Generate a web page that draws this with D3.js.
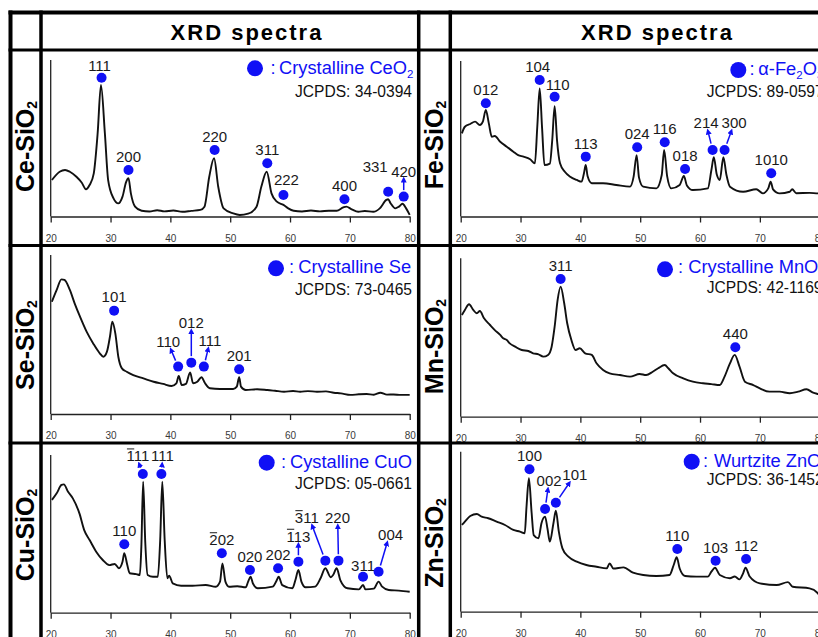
<!DOCTYPE html>
<html>
<head>
<meta charset="utf-8">
<script src="https://cdn.jsdelivr.net/npm/d3@7"></script>
<style>
body { margin: 0; background: #fff; }
svg { display: block; font-family: "Liberation Sans", Arial, sans-serif; }
</style>
</head>
<body>
<script>
// 2-theta ticks shared by every panel
const xTicks = [20, 30, 40, 50, 60, 70, 80];

// Ce-SiO2
const ceTheta = [20.2, 21.5, 22.4, 23.2, 24.3, 25.2, 25.9, 26.5, 27.2, 27.85, 28.4, 29.05, 29.6, 30.5, 31.3, 32.0, 32.6, 33.0, 33.4, 34.1, 35.2, 36.5, 37.8, 39.0, 40.5, 42.0, 43.5, 45.0, 45.7, 46.5, 47.3, 48.0, 48.9, 50.5, 51.6, 53.0, 54.4, 55.2, 56.1, 56.9, 57.8, 58.9, 59.7, 60.6, 62.0, 63.5, 65.0, 66.5, 67.8, 68.9, 69.4, 70.3, 71.4, 72.5, 73.9, 75.0, 76.1, 76.4, 76.8, 77.6, 78.2, 78.8, 79.4, 80];
const ceCounts = [23.3, 28.6, 29.7, 28.6, 25.4, 21.6, 17.4, 20.1, 27.6, 53.4, 84, 53.4, 23.3, 11.6, 8.4, 12.7, 22, 24.4, 14.8, 6.3, 3.7, 3.2, 4.0, 3.3, 3.8, 3.0, 3.6, 4.2, 6.3, 25.4, 37.2, 19, 5.2, 2, 1, 1.8, 6.3, 19, 28.6, 14.8, 9.5, 7.4, 5.2, 3.7, 3.2, 3.8, 3.3, 3.7, 3.7, 5.8, 6.3, 4.6, 3, 3.5, 3, 5.2, 10.6, 11, 8.5, 5.2, 6.3, 8.1, 5.2, 1];
const cePeaks = [28.5, 33.0, 47.4, 56.2, 58.9, 69.1, 76.4, 79.0];
const ceMarks = [88.7, 29.7, 42.5, 34, 13.7, 11, 15.8, 12.7];
const ceHkl = ['111', '200', '220', '311', '222', '400', '331', '420'];

// Se-SiO2
const seTheta = [20.2, 21.0, 21.8, 22.3, 23.2, 24.0, 24.9, 26.0, 27.1, 28.2, 28.8, 29.4, 29.9, 30.3, 30.8, 31.3, 31.9, 32.7, 33.8, 35.5, 37.2, 38.8, 40.2, 41.0, 41.4, 41.9, 42.6, 43.3, 43.8, 44.5, 45.2, 45.8, 46.6, 48.3, 50.5, 51.1, 51.5, 51.8, 52.6, 54.5, 56.2, 57.5, 59.0, 60.5, 61.7, 63.0, 64.5, 66.0, 67.3, 68.5, 70.1, 71.5, 72.8, 74.0, 75.1, 76.2, 77.3, 78.5, 80];
const seCounts = [70.6, 78, 84.7, 84.3, 78, 69.6, 61.2, 51.8, 44.4, 38.2, 36, 39.2, 48.6, 58, 50.7, 36, 28.7, 26.6, 24.5, 22.4, 20.3, 18.9, 17.6, 19.3, 23.9, 18.2, 18.9, 26.2, 19.3, 20.3, 23.1, 19.3, 16.2, 15.7, 15.7, 17.2, 23.1, 17.2, 15.1, 15.6, 15.1, 14.6, 14.0, 14.5, 14, 14.4, 14, 14.2, 13.4, 13, 12, 12.4, 12.6, 12.1, 13.4, 12.2, 12.3, 12.0, 12];
const sePeaks = [30.6, 41.3, 43.5, 45.6, 51.5];
const seMarks = [65, 29.8, 32.3, 29.8, 28.1];
const seHkl = ['101', '110', '012', '111', '201'];

// Cu-SiO2
const cuTheta = [20.2, 21.0, 21.8, 22.2, 22.9, 23.7, 24.8, 25.6, 26.5, 27.6, 28.7, 29.8, 30.7, 31.4, 32.0, 32.3, 32.8, 33.2, 34.3, 34.9, 35.15, 35.45, 35.8, 36.2, 37.1, 37.9, 38.3, 38.65, 39.05, 39.5, 39.8, 40.4, 41.8, 43.7, 45.9, 47.6, 48.3, 48.7, 49.2, 49.8, 51.2, 52.6, 53.0, 53.4, 53.8, 54.6, 57.1, 57.7, 58.1, 58.7, 60.4, 60.9, 61.4, 61.9, 62.6, 64.2, 65.1, 65.9, 66.8, 67.2, 67.8, 68.4, 69.6, 71.5, 72.2, 72.6, 74.0, 74.8, 75.4, 76.5, 78.2, 80];
const cuCounts = [71.5, 75.7, 81, 81.4, 76.7, 72.5, 63, 52.4, 46.1, 38.7, 33.4, 30.2, 30.9, 28.2, 32.3, 37.7, 30.2, 25, 24.5, 23.9, 41.9, 83.1, 45, 23.9, 22.8, 22.8, 46.1, 83.1, 46, 21.8, 23.5, 18.6, 17.1, 17.1, 17.6, 16.5, 19.7, 31.3, 19.7, 16.5, 16.8, 16.1, 19.7, 22.8, 18.5, 15.5, 16.5, 20, 22.8, 17.5, 15.5, 20.7, 27.1, 19.7, 16.1, 16.5, 21.8, 28.2, 22.5, 23.9, 28.2, 20.7, 15.5, 14.8, 17.6, 14.8, 15.3, 19.7, 16.5, 14.4, 14, 13.3];
const cuPeaks = [32.3, 35.4, 38.5, 48.6, 53.3, 58.0, 61.4, 65.9, 68.1, 72.2, 74.8];
const cuMarks = [43.4, 88, 88, 37.7, 27.1, 28.2, 32.3, 33, 33, 22.8, 26];
const cuHkl = ['110', '-111', '111', '-202', '020', '202', '-113', '-311', '220', '311', '004'];

// Fe-SiO2
const feTheta = [20.2, 20.7, 21.6, 22.4, 23.2, 23.7, 24.2, 24.7, 25.2, 25.7, 26.6, 27.7, 28.8, 29.6, 30.5, 31.6, 32.4, 32.8, 33.2, 33.6, 34.0, 34.9, 35.3, 35.7, 36.1, 36.6, 37.4, 38.3, 39.4, 40.2, 40.6, 40.9, 41.2, 41.9, 43.8, 46.0, 48.3, 48.9, 49.4, 49.8, 50.5, 52.7, 53.6, 54.0, 54.5, 55.2, 56.6, 57.3, 57.8, 58.8, 61.3, 61.9, 62.3, 62.8, 63.3, 63.9, 64.4, 65.0, 67.2, 69.4, 70.5, 71.4, 71.8, 72.2, 73.3, 75.0, 75.4, 76.1, 78.3, 79.7, 80];
const feCounts = [53.5, 57.7, 59.5, 61, 58.8, 61, 68.5, 59.9, 51.3, 51.8, 48.1, 44.9, 41.7, 39.5, 38.5, 36.8, 34.2, 57.7, 82.4, 57, 33.1, 34, 49.2, 71, 49, 34.2, 28.8, 25.6, 23.5, 22.4, 27.8, 33.1, 26, 21.4, 21.4, 20.3, 19.2, 25.6, 39.5, 25, 19.2, 18.1, 26.7, 42.8, 26, 18.1, 20.3, 26, 20, 17, 18.1, 29.9, 38.1, 27, 23.5, 38.1, 27, 19.2, 15.9, 17.5, 14.9, 18.1, 22.4, 17.5, 14.9, 15.9, 17.5, 15, 15.2, 14.9, 15];
const fePeaks = [24.2, 33.2, 35.7, 40.9, 49.5, 54.1, 57.5, 62.1, 64.1, 71.9];
const feMarks = [72.8, 87.8, 77, 38.5, 44.5, 47.7, 30.5, 42.8, 42.8, 27.8];
const feHkl = ['012', '104', '110', '113', '024', '116', '018', '214', '300', '1010'];

// Mn-SiO2
const mnTheta = [20.2, 20.7, 21.4, 22.1, 22.7, 23.2, 23.9, 24.9, 25.7, 26.6, 27.1, 27.7, 28.2, 29.1, 30.2, 31.3, 32.1, 33.0, 33.8, 34.6, 35.2, 35.7, 36.2, 36.7, 37.3, 37.8, 38.5, 39.2, 39.9, 40.8, 41.9, 42.7, 43.8, 44.9, 46.6, 48.3, 49.9, 51.0, 52.1, 53.0, 54.1, 54.7, 55.5, 57.2, 58.8, 60.5, 61.9, 63.3, 64.1, 65.0, 65.8, 66.6, 67.5, 68.9, 70.0, 71.6, 73.3, 75.0, 76.4, 77.8, 78.9, 79.7, 80];
const mnCounts = [64.2, 67.4, 71, 67.4, 65.3, 66.7, 62.1, 57.9, 54.7, 51.6, 49.5, 48.4, 46.3, 44.2, 42.1, 41.5, 40, 39.4, 37.9, 39, 44.2, 56.8, 73.7, 82.1, 71.6, 59, 48.4, 42.1, 43.2, 40, 39, 33.7, 29.5, 27.4, 26.3, 25.3, 27, 26.3, 28.4, 30.6, 32.6, 30.6, 27.4, 24.2, 22.1, 21.1, 20.6, 20, 25.3, 33.7, 39, 31.6, 22.1, 20, 17.9, 15.8, 15.8, 14.8, 15.8, 17.3, 15.2, 14.3, 14];
const mnPeaks = [36.7, 65.9];
const mnMarks = [86.9, 43.8];
const mnHkl = ['311', '440'];

// Zn-SiO2
const znTheta = [20.2, 20.7, 21.6, 22.7, 23.5, 24.6, 26.0, 27.4, 28.8, 29.9, 30.7, 31.0, 31.4, 31.85, 32.2, 33.0, 33.5, 34.1, 34.5, 34.9, 35.5, 35.9, 36.4, 37.0, 38.0, 39.4, 41.0, 42.7, 44.4, 44.9, 45.5, 47.2, 48.8, 50.5, 52.7, 54.9, 55.6, 56.1, 56.6, 57.5, 59.4, 61.3, 61.9, 62.5, 63.3, 65.0, 65.8, 66.6, 67.2, 67.6, 68.3, 70.0, 72.8, 74.7, 75.5, 78.3, 79.7, 80];
const znCounts = [54.2, 56.3, 59.8, 61.1, 59.4, 58.4, 56.3, 54.2, 51.1, 50, 49, 65.6, 83.4, 62, 47.9, 45.9, 55.3, 59.4, 52, 43.8, 55.3, 63.1, 50, 39.6, 34.4, 31.3, 29.2, 28.1, 27.1, 30.2, 27, 27.7, 24.4, 22.9, 22.3, 22.9, 29.2, 34, 27, 22.3, 21.9, 21.9, 25, 27.5, 22.9, 20.9, 22, 20.2, 24, 27.5, 22, 17.7, 16.7, 18.5, 15.6, 14.6, 11.5, 10];
const znPeaks = [31.5, 34.1, 35.9, 56.2, 62.6, 67.7];
const znMarks = [89, 64.2, 68.1, 39.2, 31.9, 32.9];
const znHkl = ['100', '002', '101', '110', '103', '112'];

const blue = '#1010f5';
const width = 818;
const height = 637;

const svg = d3.select('body').append('svg')
	.attr('width', width)
	.attr('height', height);

// label nudges (px) from the default spot just above each dot: [dx, dy, arrow]
const panels = [
	{ sample: 'Ce-SiO_2', theta: ceTheta, counts: ceCounts, peaks: cePeaks, marks: ceMarks, hkl: ceHkl,
		legend: 'Crystalline CeO_2', card: 'JCPDS: 34-0394',
		left: 50.7, top: 60, axis: 216.5, rowX: 34, rowY: 146.5,
		dot: [255, 68.3], colonX: 270.5, legX: 279, legY: 74, cardX: 295, cardY: 96.7,
		nudge: { '111': [-2, -7], '222': [3, -10], '331': [-13, -20], '420': [0, -20, true] } },
	{ sample: 'Se-SiO_2', theta: seTheta, counts: seCounts, peaks: sePeaks, marks: seMarks, hkl: seHkl,
		legend: 'Crystalline Se', card: 'JCPDS: 73-0465',
		left: 50.7, top: 255, axis: 414, rowX: 34, rowY: 345,
		dot: [276, 268.3], colonX: 289, legX: 298.3, legY: 273.3, cardX: 295, cardY: 295,
		nudge: { '101': [0, -9], '110': [-10, -19.5, true], '012': [0, -34.5, true], '111': [6, -20.5, true] } },
	{ sample: 'Cu-SiO_2', theta: cuTheta, counts: cuCounts, peaks: cuPeaks, marks: cuMarks, hkl: cuHkl,
		legend: 'Cystalline CuO', card: 'JCPDS: 05-0661',
		left: 50.7, top: 455, axis: 612.7, rowX: 34, rowY: 535,
		dot: [266.7, 462.7], colonX: 281, legX: 290, legY: 468.3, cardX: 295, cardY: 489.3,
		nudge: { '-111': [-5, -12.5, true], '111': [1, -12.5, true], '-113': [0, -20, true],
			'-311': [-18.5, -37.5, true], '220': [-1, -37.5, true], '004': [12, -31.5, true], '311': [0, -6] } },
	{ sample: 'Fe-SiO_2', theta: feTheta, counts: feCounts, peaks: fePeaks, marks: feMarks, hkl: feHkl,
		legend: 'α-Fe_2O_3', card: 'JCPDS: 89-0597',
		left: 460.7, top: 61, axis: 216.5, rowX: 443, rowY: 145,
		dot: [738.3, 70], colonX: 749.5, legX: 758.3, legY: 75, cardX: 706.7, cardY: 97,
		nudge: { '104': [-2, -7.5], '110': [3, -7], '214': [-6.5, -21.5, true], '300': [9.5, -21.5, true] } },
	{ sample: 'Mn-SiO_2', theta: mnTheta, counts: mnCounts, peaks: mnPeaks, marks: mnMarks, hkl: mnHkl,
		legend: 'Crystalline MnO_2', card: 'JCPDS: 42-1169',
		left: 460.7, top: 258.3, axis: 416.7, rowX: 443, rowY: 346.5,
		dot: [665, 269.3], colonX: 678, legX: 688.3, legY: 273.3, cardX: 706.7, cardY: 293.3,
		nudge: {} },
	{ sample: 'Zn-SiO_2', theta: znTheta, counts: znCounts, peaks: znPeaks, marks: znMarks, hkl: znHkl,
		legend: 'Wurtzite ZnO', card: 'JCPDS: 36-1452',
		left: 460.7, top: 451.7, axis: 611.7, rowX: 443, rowY: 543,
		dot: [691.7, 461.7], colonX: 703, legX: 714, legY: 466.7, cardX: 706.7, cardY: 485,
		nudge: { '002': [4, -22.5, true], '101': [19, -22.5, true] } },
];

svg.append('defs').append('marker')
	.attr('id', 'head')
	.attr('viewBox', '0 0 10 10')
	.attr('refX', 5).attr('refY', 5)
	.attr('markerWidth', 4).attr('markerHeight', 4)
	.attr('orient', 'auto')
	.append('path')
	.attr('d', 'M0,0L10,5L0,10z')
	.attr('fill', blue);

// text with "_2" style subscripts
function addRich(text, str, subSize, shift) {
	let lowered = false;
	str.split(/_(\d)/).forEach((part, i) => {
		if (!part) return;
		const t = text.append('tspan').text(part);
		if (i % 2 === 1) {
			t.attr('font-size', subSize).attr('dy', shift);
			lowered = true;
		} else if (lowered) {
			t.attr('dy', -shift);
			lowered = false;
		}
	});
}

function drawPanel(p) {
	const x = d3.scaleLinear().domain([20, 80]).range([p.left, p.left + 359]);
	const y = d3.scaleLinear().domain([0, 100]).range([p.axis, p.top]);
	const g = svg.append('g');

	// row label
	const row = g.append('text')
		.attr('transform', `translate(${p.rowX},${p.rowY}) rotate(-90)`)
		.attr('text-anchor', 'middle')
		.attr('font-size', 25)
		.attr('font-weight', 'bold')
		.attr('fill', '#000');
	addRich(row, p.sample, 14, 2.5);

	g.append('line')
		.attr('x1', x(20)).attr('x2', x(20))
		.attr('y1', p.top).attr('y2', p.axis)
		.attr('stroke', '#222')
		.attr('stroke-width', 1.3);

	const xAxis = d3.axisBottom(x)
		.tickValues(xTicks)
		.tickSize(6)
		.tickSizeOuter(0)
		.tickPadding(12)
		.tickFormat(d3.format('d'));

	g.append('g')
		.attr('transform', `translate(0,${p.axis})`)
		.call(xAxis)
		.attr('font-family', null)
		.attr('font-size', 10)
		.call((a) => a.select('.domain').attr('stroke', '#222').attr('stroke-width', 1.3))
		.call((a) => a.selectAll('line').attr('stroke', '#222').attr('stroke-width', 1.3))
		.call((a) => a.selectAll('text').attr('fill', '#3a3a3a'));

	const pts = p.theta.map((t, i) => [t, p.counts[i]]);
	g.append('path')
		.datum(pts)
		.attr('d', d3.line().x((d) => x(d[0])).y((d) => y(d[1])).curve(d3.curveMonotoneX))
		.attr('fill', 'none')
		.attr('stroke', '#111')
		.attr('stroke-width', 1.9)
		.attr('stroke-linejoin', 'round');

	// peak markers
	p.peaks.forEach((t, i) => {
		const cx = x(t);
		const cy = y(p.marks[i]);
		const hkl = p.hkl[i];
		const n = p.nudge[hkl] || [0, -8];
		const lx = cx + n[0];
		const ly = cy + n[1];

		g.append('circle')
			.attr('cx', cx).attr('cy', cy).attr('r', 5)
			.attr('fill', blue);

		const label = g.append('text')
			.attr('x', lx).attr('y', ly)
			.attr('text-anchor', 'middle')
			.attr('font-size', 15)
			.attr('fill', '#1a1a1a')
			.text(hkl.replace('-', ''));

		if (hkl[0] === '-') {
			const bb = label.node().getBBox();
			g.append('line')
				.attr('x1', bb.x + 0.5).attr('x2', bb.x + 7.8)
				.attr('y1', ly - 12.5).attr('y2', ly - 12.5)
				.attr('stroke', '#1a1a1a')
				.attr('stroke-width', 1);
		}

		if (n[2]) {
			const tx = lx + (cx - lx) * 0.3;
			const ty = ly + 3;
			const dx = tx - cx;
			const dy = ty - cy;
			const len = Math.hypot(dx, dy);
			const s = 6.5 / len;
			g.append('line')
				.attr('x1', cx + dx * s).attr('y1', cy + dy * s)
				.attr('x2', tx).attr('y2', ty)
				.attr('stroke', blue)
				.attr('stroke-width', 1.5)
				.attr('marker-end', 'url(#head)');
		}
	});

	// legend
	g.append('circle')
		.attr('cx', p.dot[0]).attr('cy', p.dot[1]).attr('r', 8)
		.attr('fill', blue);
	g.append('text')
		.attr('x', p.colonX).attr('y', p.legY)
		.attr('font-size', 18.3)
		.attr('fill', blue)
		.text(':');
	const leg = g.append('text')
		.attr('x', p.legX).attr('y', p.legY)
		.attr('font-size', 18.3)
		.attr('fill', blue);
	addRich(leg, p.legend, 11.5, 4);
	g.append('text')
		.attr('x', p.cardX).attr('y', p.cardY)
		.attr('font-size', 15.6)
		.attr('fill', '#111')
		.text(p.card);
}

panels.forEach(drawPanel);

// header
[247, 657.5].forEach((cx) => {
	svg.append('text')
		.attr('x', cx).attr('y', 40)
		.attr('text-anchor', 'middle')
		.attr('font-size', 22)
		.attr('font-weight', 'bold')
		.attr('letter-spacing', 2)
		.text('XRD spectra');
});

// table grid
const grid = svg.append('g').attr('stroke', '#000');
grid.append('line').attr('x1', 8.5).attr('x2', width).attr('y1', 12.5).attr('y2', 12.5).attr('stroke-width', 4);
[50, 245.5, 443].forEach((yy) => {
	grid.append('line').attr('x1', 8.5).attr('x2', width).attr('y1', yy).attr('y2', yy).attr('stroke-width', 3.2);
});
grid.append('line').attr('x1', 10.5).attr('x2', 10.5).attr('y1', 10.5).attr('y2', height).attr('stroke-width', 4);
[41, 418.7, 450.3].forEach((xx) => {
	grid.append('line').attr('x1', xx).attr('x2', xx).attr('y1', 10.5).attr('y2', height).attr('stroke-width', 3.5);
});
</script>
</body>
</html>
